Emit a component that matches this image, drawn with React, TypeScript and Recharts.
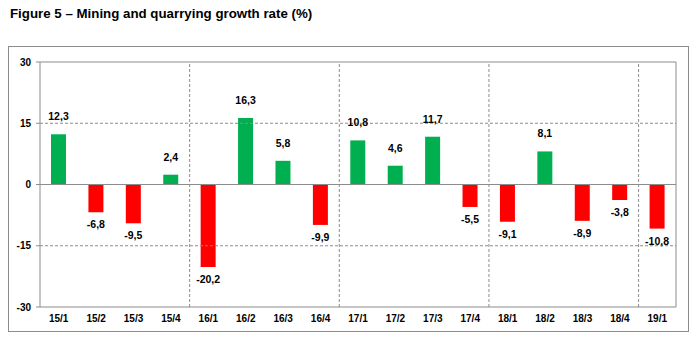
import React from 'react';
import { BarChart, Bar, XAxis, YAxis, Cell, ReferenceLine, LabelList } from 'recharts';

const categories = ['15/1', '15/2', '15/3', '15/4', '16/1', '16/2', '16/3', '16/4', '17/1', '17/2', '17/3', '17/4', '18/1', '18/2', '18/3', '18/4', '19/1'];
const growth = [12.3, -6.8, -9.5, 2.4, -20.2, 16.3, 5.8, -9.9, 10.8, 4.6, 11.7, -5.5, -9.1, 8.1, -8.9, -3.8, -10.8];
const yTicks = [-30, -15, 0, 15, 30];
const dashedLevels = [15, -15];
const title = 'Figure 5 \u2013 Mining and quarrying growth rate (%)';

const data = categories.map((q, i) => ({ q, v: growth[i] }));
const yearStarts = categories.filter((c, i) => i > 0 && c.endsWith('/1'));

const FONT = '"Liberation Sans", Arial, Helvetica, sans-serif';
const GRID = '#8c8c8c';
const GREEN = '#00B050';
const RED = '#FF0000';

const fmt = (v: number) => v.toFixed(1).replace('.', ',');

const ValueLabel = (props: any) => {
  const { x, y, width, height, value } = props;
  const top = Math.min(y, y + height);
  const bottom = Math.max(y, y + height);
  const cx = x + width / 2;
  const ty = value >= 0 ? top - 14 : bottom + 16;
  return (
    <text x={cx} y={ty} textAnchor="middle" fontFamily={FONT} fontSize={10.5} fontWeight="bold" fill="#000">
      {fmt(value)}
    </text>
  );
};

export default function App() {
  return (
    <div style={{ position: 'absolute', left: 0, top: 0, width: 698, height: 353, background: '#fff', fontFamily: FONT }}>
      <div style={{ position: 'absolute', left: 10, top: 7, fontSize: 13.3, lineHeight: '13px', fontWeight: 'bold', color: '#000', whiteSpace: 'nowrap' }}>
        {title}
      </div>
      <div style={{ position: 'absolute', left: 8, top: 46, width: 681, height: 286, border: `1px solid ${GRID}`, boxSizing: 'border-box' }} />
      <div style={{ position: 'absolute', left: 0, top: 0 }}>
        <BarChart width={698} height={353} data={data} margin={{ top: 62, right: 22, bottom: 16, left: 0 }} barSize={15}>
          <XAxis
            dataKey="q"
            height={30}
            axisLine={{ stroke: GRID }}
            tickLine={false}
            tickSize={0}
            tickMargin={8}
            interval={0}
            tick={{ fontFamily: FONT, fontSize: 10, fontWeight: 'bold', fill: '#000' }}
          />
          <YAxis
            type="number"
            domain={[-30, 30]}
            ticks={yTicks}
            width={40}
            axisLine={{ stroke: GRID }}
            tickLine={{ stroke: GRID }}
            tickSize={4}
            tickMargin={5}
            interval={0}
            tick={{ fontFamily: FONT, fontSize: 10, fontWeight: 'bold', fill: '#000' }}
          />
          {dashedLevels.map((lv) => (
            <ReferenceLine key={lv} y={lv} stroke={GRID} strokeDasharray="3 2" />
          ))}
          <ReferenceLine y={30} stroke={GRID} />
          {yearStarts.map((c) => (
            <ReferenceLine key={c} x={c} position="start" stroke={GRID} strokeDasharray="3 2" />
          ))}
          <ReferenceLine x={categories[categories.length - 1]} position="end" stroke={GRID} />
          <ReferenceLine y={0} stroke={GRID} />
          <Bar dataKey="v" isAnimationActive={false}>
            {data.map((d, i) => (
              <Cell key={i} fill={d.v >= 0 ? GREEN : RED} />
            ))}
            <LabelList dataKey="v" content={<ValueLabel />} />
          </Bar>
        </BarChart>
      </div>
    </div>
  );
}
